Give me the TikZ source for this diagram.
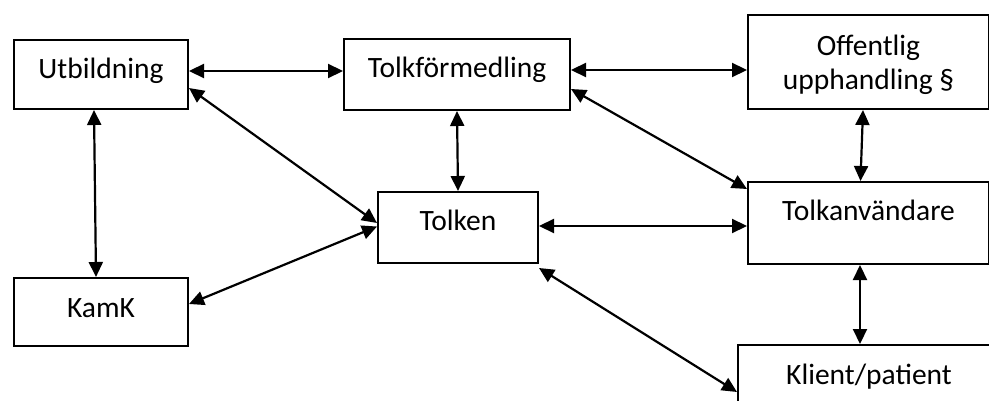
\documentclass[tikz,border=0pt]{standalone}
\usepackage{fontspec}
\setmainfont{Carlito}
\usetikzlibrary{arrows.meta}

\begin{document}
\begin{tikzpicture}[x=1pt, y=-1pt]
    % Define styles
    \tikzstyle{box} = [rectangle, draw=black, line width=2pt, anchor=north west, inner sep=0pt, text height=39pt, align=center, font=\fontsize{29.5}{34}\selectfont]
    \tikzstyle{arrow} = [line width=2.2pt, {Triangle[length=15pt,width=14pt]}-{Triangle[length=15pt,width=14pt]}]

    \useasboundingbox (0,0) rectangle (989,401);
    \clip (0,0) rectangle (989,401);

    % Nodes
    \node [box, minimum width=174pt, minimum height=69pt, text depth=30pt] (utb) at (13,39) {Utbildning};
    \node [box, minimum width=226pt, minimum height=71pt, text depth=32pt] (tfm) at (343,38) {Tolkförmedling};
    \node [box, minimum width=241pt, minimum height=94pt, text height=75pt, text depth=19pt] (off) at (747,14) {Offentlig\\upphandling §};
    \node [box, minimum width=174pt, minimum height=68pt, text depth=29pt] (kamk) at (13,277) {KamK};
    \node [box, minimum width=160pt, minimum height=71pt, text depth=32pt] (tolken) at (377,191) {Tolken};
    \node [box, minimum width=241pt, minimum height=82pt, text depth=43pt] (tanv) at (747,181) {Tolkanvändare};
    \node [box, minimum width=262pt, minimum height=72pt, text depth=33pt] (klient) at (737,344) {Klient/patient};

    % Arrows
    \draw [arrow] ([yshift=3.5pt]utb.east) -- ([yshift=3.5pt]tfm.west);
    \draw [arrow] ([yshift=4.5pt]tfm.east) -- ([yshift=-8pt]off.west);
    \draw [arrow] ([xshift=-7pt]utb.south) -- ([xshift=-5pt]kamk.north);
    \draw [arrow] ([yshift=-13.5pt]utb.east) -- ([yshift=4.5pt]tolken.west);
    \draw [arrow] ([yshift=8pt]kamk.east) -- ([yshift=1pt]tolken.west);
    \draw [arrow] (tfm.south) -- (tolken.north);
    \draw [arrow] ([yshift=-14.5pt]tfm.east) -- ([yshift=34pt]tanv.west);
    \draw [arrow] ([xshift=-5.5pt]off.south) -- ([xshift=-8pt]tanv.north);
    \draw [arrow] ([yshift=1.5pt]tolken.east) -- ([yshift=-3pt]tanv.west);
    \draw [arrow] ([xshift=-8.5pt]tanv.south) -- ([xshift=-9pt]klient.north);
    \draw [arrow] ([yshift=-4pt]tolken.south east) -- ([yshift=-48pt]klient.north west);
\end{tikzpicture}
\end{document}
